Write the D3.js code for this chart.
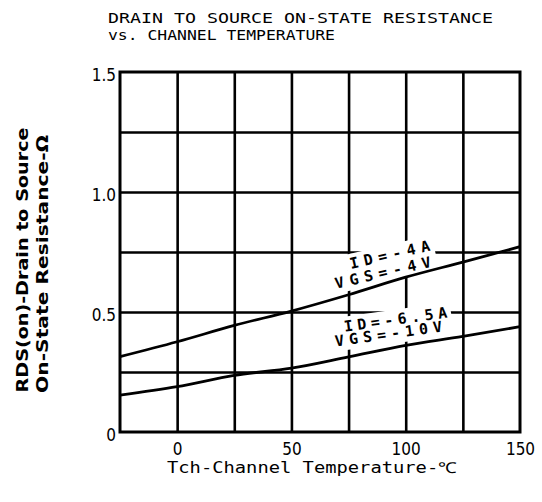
<!DOCTYPE html>
<html>
<head>
<meta charset="utf-8">
<script src="https://cdn.jsdelivr.net/npm/d3@7"></script>
<style>
  body { margin: 0; background: #fff; }
  svg { display: block; }
  .tick text { font-family: "DejaVu Sans Condensed", "DejaVu Sans", sans-serif; font-stretch: condensed; }
  .mono { font-family: "DejaVu Sans Mono", "Liberation Mono", monospace; }
</style>
</head>
<body>
<div id="chart"></div>
<script>
/* RDS(on) vs channel temperature */

// channel temperature (°C)
const temps = [-25, 0, 25, 50, 75, 100, 125, 150];
// ID = -4A, VGS = -4V
const rdsLow = [0.314, 0.376, 0.444, 0.504, 0.572, 0.645, 0.708, 0.772];
// ID = -6.5A, VGS = -10V
const rdsHigh = [0.154, 0.189, 0.236, 0.266, 0.313, 0.361, 0.398, 0.439];

const xTicks = [0, 50, 100, 150];
const yTicks = [0, 0.5, 1.0, 1.5];
const yTickLabels = ["0", "0.5", "1.0", "1.5"];
const xGrid = [0, 25, 50, 75, 100, 125];
const yGrid = [0.25, 0.5, 0.75, 1.0, 1.25];

const height = 502,
    width = 542,
    margin = ({top: 72, right: 22, bottom: 70, left: 120});

const svg = d3.select("#chart")
    .append("svg")
    .attr("width", width)
    .attr("height", height);

let x = d3.scaleLinear()
    .domain([-25, 150])
    .range([margin.left, width - margin.right]);

let y = d3.scaleLinear()
    .domain([0, 1.5])
    .range([height - margin.bottom, margin.top]);

// grid lines
svg.append("g")
    .attr("transform", `translate(0,${height - margin.bottom})`)
    .call(d3.axisBottom(x).tickValues(xGrid).tickSize(-(height - margin.top - margin.bottom)).tickFormat(""))
    .call(g => g.select(".domain").remove())
    .call(g => g.selectAll("line").attr("stroke", "#000").attr("stroke-width", 2.6));

svg.append("g")
    .attr("transform", `translate(${margin.left},0)`)
    .call(d3.axisLeft(y).tickValues(yGrid).tickSize(-(width - margin.left - margin.right)).tickFormat(""))
    .call(g => g.select(".domain").remove())
    .call(g => g.selectAll("line").attr("stroke", "#000").attr("stroke-width", 2.6));

// frame
svg.append("rect")
    .attr("x", x(-25))
    .attr("y", y(1.5))
    .attr("width", x(150) - x(-25))
    .attr("height", y(0) - y(1.5))
    .attr("fill", "none")
    .attr("stroke", "#000")
    .attr("stroke-width", 3);

// tick labels
svg.append("g")
    .attr("transform", `translate(0,${height - margin.bottom})`)
    .call(d3.axisBottom(x).tickValues(xTicks).tickSize(0).tickPadding(11))
    .call(g => g.select(".domain").remove())
    .call(g => g.selectAll("text").attr("font-size", 17).attr("fill", "#000"));

svg.append("g")
    .attr("transform", `translate(${margin.left},0)`)
    .call(d3.axisLeft(y).tickValues(yTicks).tickSize(0).tickPadding(4)
        .tickFormat((d, i) => yTickLabels[i]))
    .call(g => g.select(".domain").remove())
    .call(g => g.selectAll("text").attr("font-size", 17).attr("fill", "#000").attr("dy", "0.5em"));

// curve label backgrounds go under the curves
const maskG = svg.append("g");
const curveG = svg.append("g");
const labelG = svg.append("g");

let line = d3.line()
    .x((d, i) => x(temps[i]))
    .y(d => y(d))
    .curve(d3.curveMonotoneX);

for (let s of [rdsLow, rdsHigh]) {
    curveG.append("path")
        .datum(s)
        .attr("d", line)
        .attr("fill", "none")
        .attr("stroke", "#000")
        .attr("stroke-width", 2.8);
}

const labels = [
    {text: "ID=-4A", t: 93, r: 0.738, rot: -13, len: 82},
    {text: "VGS=-4V", t: 90, r: 0.663, rot: -13, len: 98},
    {text: "ID=-6.5A", t: 95.5, r: 0.468, rot: -8, len: 104},
    {text: "VGS=-10V", t: 92.5, r: 0.408, rot: -8, len: 108}
];

for (let l of labels) {
    let tr = `translate(${x(l.t)},${y(l.r)}) rotate(${l.rot})`;
    let t = labelG.append("text")
        .attr("class", "mono")
        .attr("transform", tr)
        .attr("text-anchor", "middle")
        .attr("dominant-baseline", "central")
        .attr("font-size", 15)
        .attr("font-weight", "bold")
        .attr("textLength", l.len)
        .attr("lengthAdjust", "spacing")
        .text(l.text);
    let bb = t.node().getBBox();
    maskG.append("rect")
        .attr("transform", tr)
        .attr("x", bb.x - 4)
        .attr("y", bb.y - 1)
        .attr("width", bb.width + 8)
        .attr("height", bb.height + 2)
        .attr("fill", "#fff");
}

// title
svg.append("text")
    .attr("class", "mono")
    .attr("x", 108).attr("y", 23)
    .attr("font-size", 14)
    .attr("textLength", 385)
    .attr("lengthAdjust", "spacingAndGlyphs")
    .text("DRAIN TO SOURCE ON-STATE RESISTANCE");

svg.append("text")
    .attr("class", "mono")
    .attr("x", 108).attr("y", 40)
    .attr("font-size", 14)
    .attr("textLength", 227)
    .attr("lengthAdjust", "spacingAndGlyphs")
    .text("vs. CHANNEL TEMPERATURE");

// axis labels
svg.append("text")
    .attr("class", "mono")
    .attr("x", 312).attr("y", 473)
    .attr("text-anchor", "middle")
    .attr("font-size", 15)
    .attr("textLength", 290)
    .attr("lengthAdjust", "spacingAndGlyphs")
    .text("Tch-Channel Temperature-\u2103");

svg.append("text")
    .attr("transform", "rotate(-90)")
    .attr("x", -260).attr("y", 28)
    .attr("text-anchor", "middle")
    .attr("font-family", "'DejaVu Sans Condensed', 'DejaVu Sans', sans-serif")
    .attr("font-weight", "bold")
    .attr("font-size", 15)
    .attr("textLength", 265)
    .attr("lengthAdjust", "spacingAndGlyphs")
    .text("RDS(on)-Drain to Source");

svg.append("text")
    .attr("transform", "rotate(-90)")
    .attr("x", -264).attr("y", 48)
    .attr("text-anchor", "middle")
    .attr("font-family", "'DejaVu Sans Condensed', 'DejaVu Sans', sans-serif")
    .attr("font-weight", "bold")
    .attr("font-size", 15)
    .attr("textLength", 258)
    .attr("lengthAdjust", "spacingAndGlyphs")
    .text("On-State Resistance-\u03A9");
</script>
</body>
</html>
